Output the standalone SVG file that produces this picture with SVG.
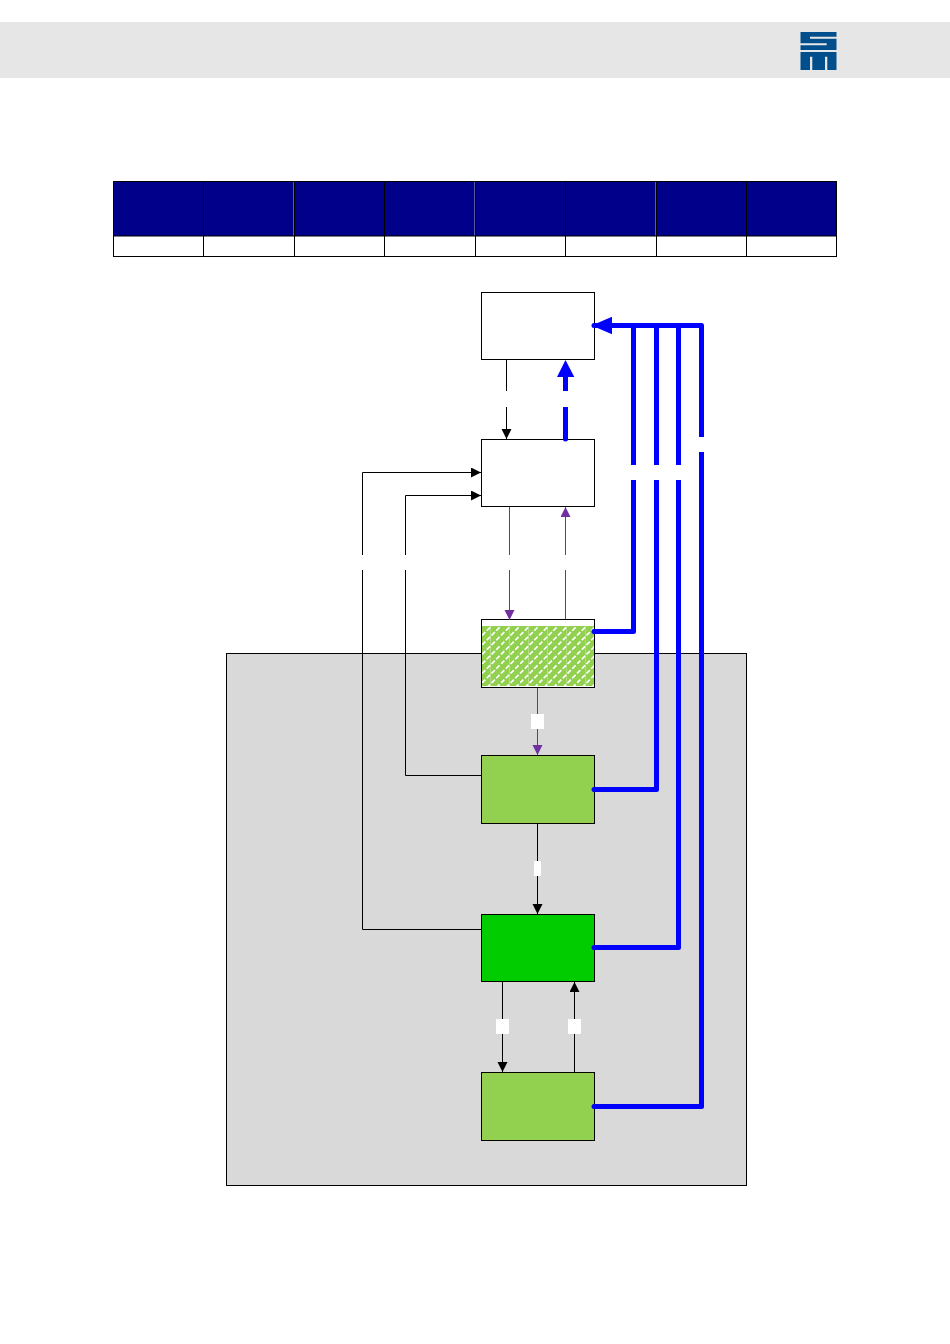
<svg xmlns="http://www.w3.org/2000/svg" width="950" height="1344" viewBox="0 0 950 1344">
<style>
.box{stroke:#000;stroke-width:1}
.thin{fill:none;stroke:#000;stroke-width:1}
.pur{fill:none;stroke:#7030a0;stroke-width:1}
.blue{fill:none;stroke:#0000ff;stroke-width:5;stroke-linejoin:round;stroke-linecap:round}
.gap{fill:#fff;stroke:none}
.grid{stroke:#000;stroke-width:1;fill:none}
.hl{stroke:#5a5aa0;stroke-width:1;fill:none}
</style>
<defs>
<pattern id="hatch" width="19" height="19" patternUnits="userSpaceOnUse" x="482" y="626">
<rect width="19" height="19" fill="#92d050"/>
<path d="M8.500 0V19" stroke="#b5dd84" stroke-width="1"/>
<path d="M-9.500 19L19 -9.500M-9.500 28.500L28.500 -9.500M9.500 19L38 -9.500" stroke="#fff" stroke-width="1.700" stroke-dasharray="4.700 2.017"/>
</pattern>
<marker id="ab" markerUnits="userSpaceOnUse" markerWidth="11" markerHeight="11" refX="10" refY="5" orient="auto"><path d="M0 0L10 5L0 10Z" fill="#000"/></marker>
<marker id="ap" markerUnits="userSpaceOnUse" markerWidth="11" markerHeight="11" refX="10" refY="5" orient="auto"><path d="M0 0L10 5L0 10Z" fill="#7030a0"/></marker>
</defs>
<rect x="0" y="22" width="950" height="56" fill="#e6e6e6"/>
<g id="logo" fill="#004f8c">
<path d="M800.500 32H836.500V36.700H810V38.700H836.500V50H800.500V45.300H826.700V43.300H800.500Z"/>
<path d="M800.500 52H836.500V70H827.300V56.700H825V70H812.300V56.700H810V70H800.500Z"/>
</g>
<g id="table">
<rect x="113.500" y="181.500" width="723" height="54.500" fill="#00008b"/>
<path class="hl" d="M293.500 182V236M474.500 182V236M655.500 182V236"/>
<path class="grid" d="M113 181.500H836.500M113 236H836.500M113 256.500H836.500M113.500 181V257M203.500 181V257M294.500 181V257M384.500 181V257M475.500 181V257M565.500 181V257M656.500 181V257M746.500 181V257M836.500 181V257"/>
</g>
<rect id="region" x="226.500" y="653.500" width="520" height="532" fill="#d9d9d9" stroke="#000" stroke-width="1"/>
<g id="node-1"><rect class="box" x="481.500" y="292.500" width="113" height="67" fill="#fff"/></g>
<g id="node-2"><rect class="box" x="481.500" y="439.500" width="113" height="67" fill="#fff"/></g>
<g id="node-3"><rect class="box" x="481.500" y="619.500" width="113" height="68" fill="#fff"/><rect x="482" y="626" width="112" height="60" fill="url(#hatch)"/></g>
<g id="node-4"><rect class="box" x="481.500" y="755.500" width="113" height="68" fill="#92d050"/></g>
<g id="node-5"><rect class="box" x="481.500" y="914.500" width="113" height="67" fill="#00cc00"/></g>
<g id="node-6"><rect class="box" x="481.500" y="1072.500" width="113" height="68" fill="#92d050"/></g>
<g id="connectors">
<path class="thin" d="M506.500 360V439" marker-end="url(#ab)"/>
<path class="pur" d="M509.500 507V620" marker-end="url(#ap)"/>
<path class="pur" d="M565.500 619V507" marker-end="url(#ap)"/>
<path class="pur" d="M537.500 688V755" marker-end="url(#ap)"/>
<path class="thin" d="M537.500 824V914" marker-end="url(#ab)"/>
<path class="thin" d="M502.500 982V1072" marker-end="url(#ab)"/>
<path class="thin" d="M574.500 1072V982" marker-end="url(#ab)"/>
<path class="thin" d="M481 929.500H362.500V472.500H481" marker-end="url(#ab)"/>
<path class="thin" d="M481 775.500H405.500V495.500H481" marker-end="url(#ab)"/>
<path class="blue" d="M565.500 439V375"/>
<path d="M565.500 360L574.300 377H557Z" fill="#0000ff"/>
<path class="blue" d="M594 631.500H633.500V325.500"/>
<path class="blue" d="M594 789.500H656.500V325.500"/>
<path class="blue" d="M594 947.500H678.500V325.500"/>
<path class="blue" d="M594 1106.500H701.500V325.500H594"/>
<path d="M591.700 325.500L612 316.700V334.300Z" fill="#0000ff"/>
</g>
<g id="labels">
<rect class="gap" x="500" y="391" width="13" height="16"/>
<rect class="gap" x="559" y="391" width="13" height="16"/>
<rect class="gap" x="627" y="465" width="60" height="15"/>
<rect class="gap" x="695" y="437" width="13" height="15"/>
<rect class="gap" x="356" y="555" width="13" height="15"/>
<rect class="gap" x="399" y="555" width="13" height="15"/>
<rect class="gap" x="503" y="555" width="13" height="15"/>
<rect class="gap" x="559" y="555" width="13" height="15"/>
<rect class="gap" x="531" y="714" width="13" height="15"/>
<rect class="gap" x="534" y="861" width="7" height="15"/>
<rect class="gap" x="496" y="1019" width="13" height="15"/>
<rect class="gap" x="568" y="1019" width="13" height="15"/>
</g>
</svg>
